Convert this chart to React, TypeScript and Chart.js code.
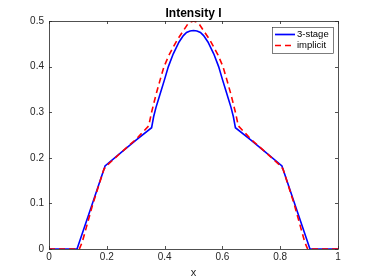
import React, { useEffect, useRef } from "react";
import { Chart, registerables } from "chart.js";

Chart.register(...registerables);

const titleText = "Intensity I";
const xLabel = "x";
const xTicks = [0, 0.2, 0.4, 0.6, 0.8, 1];
const yTicks = [0, 0.1, 0.2, 0.3, 0.4, 0.5];

const stageX = [0, 0.097, 0.145, 0.194, 0.25, 0.3, 0.355, 0.362, 0.37, 0.386, 0.4, 0.413, 0.43, 0.45, 0.465, 0.476, 0.488, 0.5,
  0.512, 0.524, 0.535, 0.55, 0.57, 0.587, 0.6, 0.614, 0.63, 0.638, 0.645, 0.7, 0.75, 0.806, 0.855, 0.903, 1];
const stageY = [0, 0, 0.09, 0.182, 0.212, 0.238, 0.266, 0.29, 0.31, 0.343, 0.372, 0.4, 0.428, 0.454, 0.468, 0.475, 0.478, 0.479,
  0.478, 0.475, 0.468, 0.454, 0.428, 0.4, 0.372, 0.343, 0.31, 0.29, 0.266, 0.238, 0.212, 0.182, 0.09, 0, 0];

const implicitX = [0, 0.105, 0.115, 0.15, 0.19, 0.2, 0.25, 0.3, 0.345, 0.355, 0.37, 0.385, 0.398, 0.415, 0.43, 0.445, 0.463, 0.48, 0.49, 0.5,
  0.51, 0.52, 0.537, 0.555, 0.57, 0.585, 0.602, 0.615, 0.63, 0.645, 0.655, 0.7, 0.75, 0.8, 0.81, 0.85, 0.885, 0.895, 1];
const implicitY = [0, 0, 0.015, 0.095, 0.175, 0.183, 0.212, 0.24, 0.27, 0.3, 0.338, 0.372, 0.4, 0.425, 0.443, 0.46, 0.477, 0.493, 0.498, 0.5,
  0.498, 0.493, 0.477, 0.46, 0.443, 0.425, 0.4, 0.372, 0.338, 0.3, 0.27, 0.24, 0.212, 0.183, 0.175, 0.095, 0.015, 0, 0];

const FONT = "'Liberation Sans', Arial, Helvetica, sans-serif";
const AXIS_COLOR = "#262626";

const frame = {
  id: "frame",
  afterDraw(chart: any) {
    const { ctx, chartArea: a, scales } = chart;
    ctx.save();
    ctx.strokeStyle = AXIS_COLOR;
    ctx.lineWidth = 0.8;
    ctx.strokeRect(a.left + 0.5, a.top + 0.5, a.right - a.left, a.bottom - a.top);
    const t = 3;
    ctx.beginPath();
    xTicks.forEach((v) => {
      const px = Math.round(scales.x.getPixelForValue(v)) + 0.5;
      ctx.moveTo(px, a.bottom); ctx.lineTo(px, a.bottom - t);
      ctx.moveTo(px, a.top); ctx.lineTo(px, a.top + t);
    });
    yTicks.forEach((v) => {
      const py = Math.round(scales.y.getPixelForValue(v)) + 0.5;
      ctx.moveTo(a.left, py); ctx.lineTo(a.left + t, py);
      ctx.moveTo(a.right, py); ctx.lineTo(a.right - t, py);
    });
    ctx.stroke();

    // title
    ctx.fillStyle = "#000";
    ctx.font = `bold 12px ${FONT}`;
    ctx.textAlign = "center";
    ctx.textBaseline = "bottom";
    ctx.fillText(titleText, (a.left + a.right) / 2, a.top - 1);

    // legend
    const ds = chart.data.datasets;
    const lx = 272, ly = 27, lw = 61, lh = 26;
    ctx.fillStyle = "#fff";
    ctx.fillRect(lx, ly, lw, lh);
    ctx.strokeStyle = "#262626";
    ctx.lineWidth = 0.6;
    ctx.strokeRect(lx + 0.5, ly + 0.5, lw, lh);
    ctx.font = `9.5px ${FONT}`;
    ctx.textAlign = "left";
    ctx.textBaseline = "middle";
    ds.forEach((d: any, i: number) => {
      const yy = ly + 7.5 + i * 11;
      ctx.strokeStyle = d.borderColor;
      ctx.lineWidth = 1.7;
      ctx.setLineDash(d.borderDash || []);
      ctx.beginPath();
      ctx.moveTo(lx + 3, yy);
      ctx.lineTo(lx + 23, yy);
      ctx.stroke();
      ctx.setLineDash([]);
      ctx.fillStyle = "#000";
      ctx.fillText(d.label, lx + 25, yy);
    });
    ctx.restore();
  },
};

export default function App() {
  const ref = useRef<HTMLCanvasElement>(null);
  useEffect(() => {
    document.body.style.margin = "0";
    const chart = new Chart(ref.current!, {
      type: "line",
      data: {
        datasets: [
          {
            label: "3-stage",
            data: stageX.map((x, i) => ({ x, y: stageY[i] })),
            borderColor: "#0000ff",
            borderWidth: 1.6,
            pointRadius: 0,
            tension: 0,
            order: 2,
          },
          {
            label: "implicit",
            data: implicitX.map((x, i) => ({ x, y: implicitY[i] })),
            borderColor: "#ff0000",
            borderWidth: 1.6,
            borderDash: [6, 4],
            pointRadius: 0,
            tension: 0,
            order: 1,
          },
        ],
      },
      options: {
        animation: false,
        responsive: false,
        layout: { padding: { left: 0, right: 36, top: 21, bottom: 0 } },
        plugins: { legend: { display: false }, tooltip: { enabled: false }, title: { display: false } },
        scales: {
          x: {
            type: "linear",
            min: 0,
            max: 1,
            afterBuildTicks: (s: any) => { s.ticks = xTicks.map((v) => ({ value: v })); },
            ticks: { color: AXIS_COLOR, font: { family: FONT, size: 10 }, padding: 2, maxRotation: 0, callback: (v: any) => String(v) },
            grid: { display: false, drawTicks: false },
            border: { display: false },
            title: { display: true, text: xLabel, color: AXIS_COLOR, font: { family: FONT, size: 11 }, padding: { top: 0, bottom: 0 } },
            afterFit: (s: any) => { s.height = 31; },
          },
          y: {
            type: "linear",
            min: 0,
            max: 0.5,
            afterBuildTicks: (s: any) => { s.ticks = yTicks.map((v) => ({ value: v })); },
            ticks: { color: AXIS_COLOR, font: { family: FONT, size: 10 }, padding: 5, callback: (v: any) => String(v) },
            grid: { display: false, drawTicks: false },
            border: { display: false },
            afterFit: (s: any) => { s.width = 49; },
          },
        },
      },
      plugins: [frame],
    });
    return () => chart.destroy();
  }, []);
  return (
    <div style={{ width: 374, height: 280 }}>
      <canvas ref={ref} width={374} height={280} style={{ display: "block" }} />
    </div>
  );
}
